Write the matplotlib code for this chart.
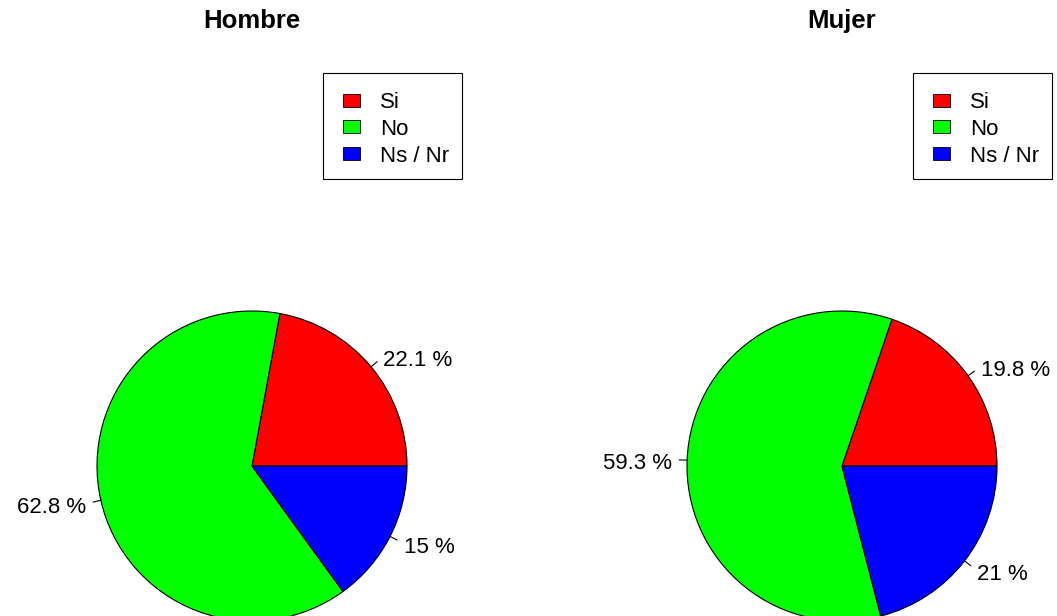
import numpy as np
import matplotlib.pyplot as plt
from matplotlib.patches import Rectangle

plt.rcParams['font.family'] = ['Liberation Sans', 'DejaVu Sans']

categories = ['Si', 'No', 'Ns / Nr']
colors = ['#FF0000', '#00FF00', '#0000FF']
titles = ['Hombre', 'Mujer']
hombre = [22.1, 62.8, 15]
mujer = [19.8, 59.3, 21]
pct_labels = [['22.1 %', '62.8 %', '15 %'], ['19.8 %', '59.3 %', '21 %']]

W, H = 1057, 616
fig = plt.figure(figsize=(W / 100, H / 100), dpi=100)
ax = fig.add_axes([0, 0, 1, 1])

centers = [(252, H - 466), (842, H - 466)]
radius = 155
legend_x = [323, 913]

for k, vals in enumerate([hombre, mujer]):
    cx, cy = centers[k]
    wedges, _ = ax.pie(vals, colors=colors, startangle=0, counterclock=True,
                       center=(cx, cy), radius=radius,
                       wedgeprops=dict(edgecolor='black', linewidth=0.8))
    for w, lab in zip(wedges, pct_labels[k]):
        ang = np.deg2rad((w.theta1 + w.theta2) / 2)
        dx, dy = np.cos(ang), np.sin(ang)
        ax.plot([cx + radius * dx, cx + radius * 1.05 * dx],
                [cy + radius * dy, cy + radius * 1.05 * dy],
                color='black', lw=0.8)
        # R centres on the glyphs, a bit lower than matplotlib's 'center'
        ax.text(cx + radius * 1.1 * dx, cy + radius * 1.1 * dy - 4, lab,
                ha='left' if dx >= 0 else 'right', va='center', fontsize=16)

    ax.text(cx, H - 21, titles[k], ha='center', va='center',
            fontsize=18.5, fontweight='bold')

    # legend box
    lx = legend_x[k]
    ax.add_patch(Rectangle((lx, H - 179), 139, 106, facecolor='white',
                           edgecolor='black', lw=0.8))
    for i, (cat, col) in enumerate(zip(categories, colors)):
        yc = H - (100 + 26.7 * i)
        ax.add_patch(Rectangle((lx + 20, yc - 6.5), 17, 13, facecolor=col,
                               edgecolor='black', lw=0.6))
        ax.text(lx + 57, yc - 3, cat, ha='left', va='center', fontsize=16)

ax.set_xlim(0, W)
ax.set_ylim(0, H)
ax.set_aspect('equal')
ax.axis('off')

fig.savefig('out.png', dpi=100)
